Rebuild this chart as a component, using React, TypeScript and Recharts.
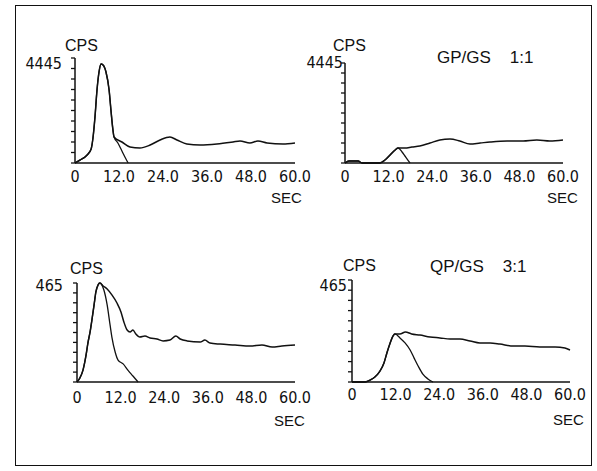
import React from "react";
import { LineChart, Line, XAxis, YAxis } from "recharts";

type Pt = [number, number];

// seconds on the x axis, CPS on the y axis
const timeTicks = [0, 12, 24, 36, 48, 60];
const topMax = 4445;
const bottomMax = 465;

// panel 1 (top left): shared rise, peak tail, total plateau
const p1Rise: Pt[] = [
  [0, 0], [1.4, 127], [3.3, 339], [4.4, 593], [4.9, 1058], [5.45, 1947], [6.0, 3090],
  [6.55, 3852], [7.1, 4191], [7.65, 4148], [8.45, 3852], [9.3, 3090], [9.8, 2243],
  [10.35, 1397], [10.65, 1101],
];
const p1Tail: Pt[] = [[11.7, 847], [12.8, 508], [13.9, 169], [14.5, 0]];
const p1Flat: Pt[] = [
  [12.8, 889], [15.0, 677], [17.7, 635], [20.5, 762], [23.2, 974], [25.9, 1101],
  [27.8, 974], [30.5, 804], [34.1, 762], [38.7, 804], [43.1, 889], [45.0, 931],
  [47.7, 847], [49.9, 931], [52.4, 847], [56.7, 804], [60, 847],
];

// panel 2 (top right)
const p2Rise: Pt[] = [
  [0, 0], [1.1, 89], [3.6, 89], [4.7, 0], [9.6, 0], [11.0, 133], [12.4, 356],
  [13.8, 578], [14.6, 667],
];
const p2Tail: Pt[] = [[15.7, 489], [16.5, 311], [17.3, 133], [17.9, 0]];
const p2Flat: Pt[] = [
  [16.5, 667], [18.4, 711], [20.6, 756], [23.4, 889], [26.1, 1022], [28.9, 1067],
  [31.6, 978], [34.4, 845], [37.2, 889], [39.9, 933], [44.6, 978], [49.0, 978],
  [52.8, 1022], [56.4, 978], [60, 1022],
];

// panel 3 (bottom left)
const p3Rise: Pt[] = [
  [0, 0], [0.8, 19], [1.65, 56], [2.5, 127], [3.0, 183], [3.6, 235], [4.1, 291],
  [4.7, 362], [5.2, 423], [5.8, 456], [6.3, 465],
];
const p3Tail: Pt[] = [
  [7.4, 432], [8.3, 362], [9.1, 268], [9.6, 211], [10.5, 141], [11.3, 103],
  [12.7, 85], [14.0, 56], [15.4, 28], [16.8, 0],
];
const p3Flat: Pt[] = [
  [7.2, 451], [8.3, 437], [9.6, 409], [11.0, 371], [12.1, 329], [12.9, 282],
  [13.8, 244], [14.6, 235], [15.4, 244], [16.2, 225], [17.3, 211], [18.7, 216],
  [20.1, 207], [22.0, 202], [23.7, 193], [25.6, 197], [27.2, 216], [28.4, 202],
  [30.3, 193], [33.9, 188], [35.2, 197], [36.6, 183], [39.4, 178], [43.5, 174],
  [47.6, 169], [50.9, 174], [53.7, 164], [56.4, 169], [60, 174],
];

// panel 4 (bottom right)
const p4Rise: Pt[] = [
  [0, 0], [3.6, 0], [5.0, 9], [6.3, 23], [7.7, 50], [8.8, 87], [9.6, 132],
  [10.5, 178], [11.3, 210], [11.8, 219],
];
const p4Tail: Pt[] = [
  [13.2, 201], [14.6, 178], [16.0, 146], [17.1, 109], [18.2, 73], [19.5, 36],
  [20.9, 14], [22.3, 0],
];
const p4Flat: Pt[] = [
  [13.2, 219], [14.7, 228], [16.4, 219], [18.7, 214], [21.5, 205], [24.2, 201],
  [27.0, 196], [29.7, 196], [32.5, 187], [35.2, 178], [38.0, 178], [40.7, 173],
  [44.3, 164], [47.6, 164], [51.7, 160], [55.9, 160], [58.6, 155], [60, 146],
];

const INK = "#111";
const NUM_FONT = "'Liberation Sans Narrow', 'DejaVu Sans Condensed', sans-serif";
const TEXT_FONT = "'Liberation Sans', Arial, sans-serif";

const rows = (pts: Pt[]) => pts.map(([t, v]) => ({ t, v }));
const fmtTime = (v: number) => (v === 0 ? "0" : v.toFixed(1));

type PanelProps = {
  x0: number; x1: number; yTop: number; yBase: number; max: number;
  rise: Pt[]; tail: Pt[]; flat: Pt[];
  maxGap: number; maxDy: number; timeGap: number;
};

function Panel({ x0, x1, yTop, yBase, max, rise, tail, flat, maxGap, maxDy, timeGap }: PanelProps) {
  const yTicks = Array.from({ length: 11 }, (_, i) => (max * i) / 10);
  const peak = rows([...rise, ...tail]);
  const total = rows([...rise, ...flat]);

  // tick mark on the left of the axis, value only at the top
  const renderYTick = (p: any) => {
    const ax = p.x + maxGap + 4;
    return (
      <g>
        <line x1={ax - 4} x2={ax} y1={p.y} y2={p.y} stroke={INK} strokeWidth={1.3} />
        {p.payload.value === max && (
          <text x={p.x} y={p.y + maxDy} textAnchor="end" dominantBaseline="central"
            fill={INK} fontSize={16} fontFamily={NUM_FONT}>{max}</text>
        )}
      </g>
    );
  };

  return (
    <div style={{ position: "absolute", left: x0 - 60, top: yTop - 40 }}>
      <LineChart
        width={x1 - x0 + 90}
        height={yBase - yTop + 85}
        margin={{ top: 40, right: 30, bottom: 10, left: 10 }}
      >
        <XAxis
          type="number" dataKey="t" domain={[0, 60]} ticks={timeTicks} interval={0}
          tickFormatter={fmtTime} height={35} tickLine={false} tickSize={0} tickMargin={timeGap}
          axisLine={{ stroke: INK, strokeWidth: 1.5 }}
          tick={{ fill: INK, fontSize: 16, fontFamily: NUM_FONT }}
        />
        <YAxis
          type="number" domain={[0, max]} ticks={yTicks} interval={0} width={50}
          tickSize={4} tickMargin={maxGap} tickLine={false}
          axisLine={{ stroke: INK, strokeWidth: 1.5 }}
          tick={renderYTick}
        />
        <Line data={total} dataKey="v" type="monotone" stroke={INK} strokeWidth={1.5}
          dot={false} isAnimationActive={false} />
        <Line data={peak} dataKey="v" type="monotone" stroke={INK} strokeWidth={1.3}
          dot={false} isAnimationActive={false} />
      </LineChart>
    </div>
  );
}

function Tag({ x, y, children, size = 16 }: { x: number; y: number; children: React.ReactNode; size?: number }) {
  return (
    <div style={{
      position: "absolute", left: x, top: y - size / 2, lineHeight: `${size}px`,
      fontSize: size, fontFamily: TEXT_FONT, color: INK, whiteSpace: "pre",
    }}>{children}</div>
  );
}

export default function App() {
  return (
    <div style={{ position: "absolute", left: 0, top: 0, width: 597, height: 471, background: "#fff" }}>
      <div style={{
        position: "absolute", left: 15, top: 5, width: 577, height: 461,
        border: `1.5px solid ${INK}`, boxSizing: "border-box",
      }} />

      <Panel x0={75} x1={295} yTop={58} yBase={163} max={topMax}
        rise={p1Rise} tail={p1Tail} flat={p1Flat} maxGap={9} maxDy={5} timeGap={8} />
      <Panel x0={345} x1={563} yTop={63} yBase={163} max={topMax}
        rise={p2Rise} tail={p2Tail} flat={p2Flat} maxGap={-2} maxDy={-1} timeGap={8} />
      <Panel x0={77} x1={295} yTop={283} yBase={382} max={bottomMax}
        rise={p3Rise} tail={p3Tail} flat={p3Flat} maxGap={10} maxDy={2} timeGap={10} />
      <Panel x0={352} x1={570} yTop={280} yBase={382} max={bottomMax}
        rise={p4Rise} tail={p4Tail} flat={p4Flat} maxGap={1} maxDy={5} timeGap={7} />

      <Tag x={65} y={46}>CPS</Tag>
      <Tag x={271} y={197} size={15}>SEC</Tag>
      <Tag x={333} y={46}>CPS</Tag>
      <Tag x={437} y={57} size={17}>{"GP/GS    1:1"}</Tag>
      <Tag x={547} y={197} size={15}>SEC</Tag>

      <Tag x={70} y={269}>CPS</Tag>
      <Tag x={274} y={420} size={15}>SEC</Tag>
      <Tag x={343} y={266}>CPS</Tag>
      <Tag x={430} y={266} size={17}>{"QP/GS    3:1"}</Tag>
      <Tag x={553} y={419} size={15}>SEC</Tag>
    </div>
  );
}
